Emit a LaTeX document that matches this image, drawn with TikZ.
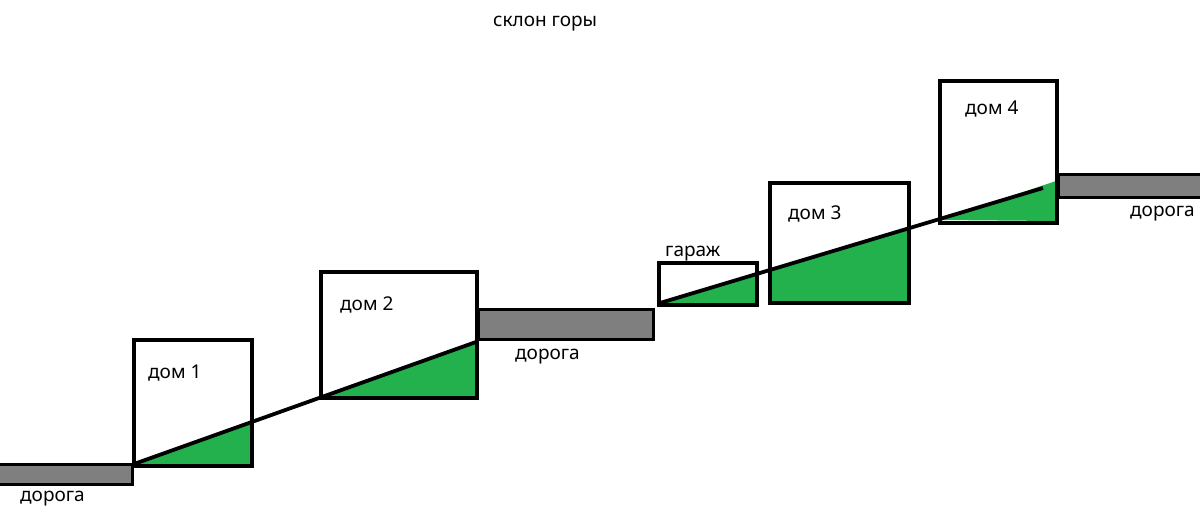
\documentclass[tikz,border=0pt]{standalone}
\usepackage{fontspec}
\setmainfont{Noto Sans}
\definecolor{grass}{HTML}{22B14C}
\definecolor{asphalt}{HTML}{7F7F7F}
\begin{document}
\begin{tikzpicture}[x=1pt,y=-1pt,
  house/.style={draw=black,line width=3.5pt},
  road/.style={draw=black,fill=asphalt,line width=3pt},
  ground/.style={fill=grass},
  slope/.style={draw=black,line width=3.8pt},
  lbl/.style={font=\fontsize{19}{22}\selectfont,inner sep=0pt,anchor=west}]
\useasboundingbox[fill=white] (0,0) rectangle (1200,517);
% roads
\draw[road] (-5,464) rectangle (132,484);
\draw[road] (478,309) rectangle (653,339);
\draw[road] (1058,174) rectangle (1210,197);
% ground fills
\fill[ground] (134,465) -- (252,422) -- (252,465) -- cycle;
\fill[ground] (321,396) -- (476,342) -- (476,396) -- cycle;
\fill[ground] (660,303) -- (757,274) -- (757,303) -- cycle;
\fill[ground] (770,270) -- (909,228) -- (909,302) -- (770,302) -- cycle;
\fill[ground] (940,220) -- (1056,181) -- (1056,221) -- cycle;
% slope line
\coordinate (s1a) at (134,464);
\coordinate (s1b) at (476,342);
\coordinate (s2a) at (660,303);
\coordinate (s2b) at (1043,188);
\draw[slope] (s1a) -- (s1b);
\draw[slope] (s2a) -- (s2b);
% houses
\draw[house] (134,340) rectangle (252,466);
\draw[house] (321,272) rectangle (477,398);
\draw[house] (659,263) rectangle (757,305);
\draw[house] (770,183) rectangle (909,303);
\draw[house] (940,81) rectangle (1057,223);
% labels
\node[lbl] (t0) at (493,24) {склон горы};
\node[lbl] (h1) at (148,373) {дом 1};
\node[lbl] (h2) at (340,305) {дом 2};
\node[lbl] (g) at (665,254) {гараж};
\node[lbl] (h3) at (788,214) {дом 3};
\node[lbl] (h4) at (965,109) {дом 4};
\node[lbl] (r1) at (20,499) {дорога};
\node[lbl] (r2) at (515,357) {дорога};
\node[lbl] (r4) at (1130,214) {дорога};
\end{tikzpicture}
\end{document}
